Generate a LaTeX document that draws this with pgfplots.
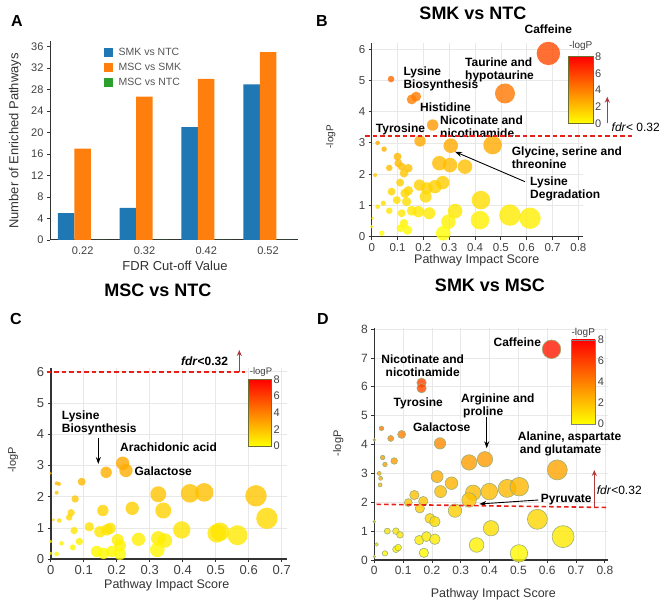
\documentclass[border=0pt]{standalone}
\usepackage{pgfplots}
\pgfplotsset{compat=1.18}
\usepackage{fontspec}
\setmainfont{Liberation Sans}
\usetikzlibrary{arrows.meta}

\definecolor{barblue}{HTML}{1F77B4}
\definecolor{barorange}{HTML}{FF7F0E}
\definecolor{bargreen}{HTML}{2CA02C}
\definecolor{axgray}{HTML}{333333}
\definecolor{ticktext}{HTML}{404040}
\definecolor{legtext}{HTML}{555555}
\definecolor{gridgray}{HTML}{E8E8E8}
\definecolor{fdrred}{HTML}{E8201A}
\definecolor{arrowred}{HTML}{B0393A}
\definecolor{cbborder}{HTML}{6E6E30}
\definecolor{dedge}{HTML}{9DB07A}

\newcommand\lab{\fontsize{12}{13}\selectfont\bfseries}
\newcommand\ttl{\fontsize{18}{20}\selectfont\bfseries}
\newcommand\pan{\fontsize{16}{18}\selectfont\bfseries}

\pgfplotsset{
  colormap={ylred}{rgb255(0cm)=(255,255,0); rgb255(1cm)=(255,140,0); rgb255(2cm)=(255,0,0)},
  panel/.style={
    scale only axis, anchor=south west,
    axis x line*=bottom, axis y line*=left,
    axis line style={axgray, line width=1.1pt, -},
    tick align=outside, major tick length=3pt,
    tick style={axgray, line width=0.8pt},
    /pgf/number format/assume math mode=true,
    tick label style={text=ticktext},
    grid=major, major grid style={gridgray, line width=0.6pt},
    point meta min=0, point meta max=8,
    colormap name=ylred,
    clip=true,
  },
  bubbles/.style={
    scatter, only marks, mark=*,
    point meta=explicit,
    visualization depends on={\thisrow{r} \as \rad},
    scatter/@pre marker code/.code={%
      \pgfplotscolormapdefinemappedcolor{\pgfplotspointmetatransformed}%
      \scope[mark size=\rad, fill=mapped color, fill opacity=0.8, line width=0.6pt, draw=#1]},
    scatter/@post marker code/.code={\endscope},
  },
  bubbles/.default={mapped color, draw opacity=0},
}

\pgfplotstableread{
c   smk  mscsmk  mscntc
0   5    17      0
1   6    26.7    0
2   21   30      0
3   29   35      0
}\bardata

\pgfplotstableread{
x     y     r
0.684 5.86 11.7
0.516 4.58 10.0
0.075 5.04 3.3
0.155 4.39 5.0
0.172 4.48 5.0
0.236 3.57 5.7
0.187 3.06 5.7
0.306 2.91 7.3
0.468 2.93 9.3
0.023 3.00 2.3
0.048 2.80 2.7
0.013 1.97 2.0
0.068 2.20 3.3
0.100 2.56 4.0
0.103 2.35 4.0
0.116 2.24 4.0
0.142 2.19 4.3
0.125 2.03 4.3
0.262 2.35 7.3
0.303 2.29 7.3
0.361 2.24 7.3
0.110 1.73 4.0
0.129 1.39 4.7
0.142 1.47 4.7
0.185 1.65 5.7
0.213 1.55 6.0
0.245 1.60 6.7
0.275 1.73 6.7
0.209 1.28 6.0
0.097 1.17 4.0
0.135 1.12 4.7
0.077 1.44 4.0
0.045 1.07 2.7
0.023 0.96 2.3
0.068 0.83 3.3
0.423 1.17 9.3
0.323 0.82 7.3
0.297 0.48 7.3
0.277 0.11 7.3
0.419 0.53 9.3
0.535 0.69 10.7
0.613 0.59 10.7
0.155 0.83 5.0
0.181 0.80 5.7
0.223 0.75 6.0
0.116 0.75 4.0
0.125 0.43 4.3
0.139 0.21 4.7
0.112 0.27 4.0
0.039 0.11 2.7
0.004 0.59 1.7
0.000 0.32 1.7
}\bdata

\pgfplotstableread{
x     y     r
0.218 3.07 6.7
0.228 2.84 6.7
0.168 2.78 5.7
0.094 2.48 4.0
0.018 2.43 2.0
0.025 2.41 2.0
0.018 2.13 2.0
0.000 2.75 1.3
0.074 1.93 3.7
0.062 1.49 3.7
0.056 1.34 3.3
0.008 1.26 1.7
0.026 1.24 2.3
0.158 1.56 5.7
0.247 1.63 6.7
0.326 2.08 8.0
0.341 1.56 8.0
0.422 2.11 9.3
0.465 2.14 9.3
0.622 2.03 10.7
0.655 1.31 10.7
0.117 1.04 4.7
0.071 0.92 3.7
0.087 0.57 3.7
0.067 0.38 3.0
0.033 0.51 2.3
0.018 0.17 2.3
0.000 0.19 1.7
0.000 0.57 1.7
0.149 0.88 5.7
0.170 0.94 5.7
0.180 0.99 5.7
0.203 0.62 6.0
0.210 0.44 6.0
0.139 0.25 5.7
0.160 0.19 5.7
0.185 0.25 5.7
0.210 0.17 6.0
0.266 0.64 6.7
0.326 0.67 7.3
0.346 0.60 7.3
0.323 0.30 7.3
0.397 0.94 8.7
0.503 0.83 9.3
0.513 0.88 9.3
0.566 0.77 10.0
}\cdata

\pgfplotstableread{
x     y     r
0.615 7.30 9.3
0.164 6.14 4.7
0.164 5.95 4.7
0.228 4.04 5.7
0.025 4.56 2.3
0.057 4.21 3.0
0.095 4.35 4.0
0.000 4.16 1.3
0.029 3.55 2.3
0.037 3.31 2.3
0.069 3.43 3.3
0.017 3.00 2.0
0.022 2.83 2.0
0.020 2.60 2.0
0.329 3.38 7.7
0.384 3.49 7.7
0.635 3.12 10.0
0.218 2.89 6.0
0.268 2.66 6.3
0.230 2.37 6.0
0.139 2.25 4.7
0.343 2.33 7.7
0.399 2.37 8.3
0.461 2.48 9.0
0.503 2.54 9.3
0.329 2.08 7.3
0.118 1.99 4.0
0.170 2.04 4.7
0.158 1.79 4.7
0.280 1.71 6.7
0.193 1.44 5.0
0.210 1.33 5.3
0.566 1.41 10.0
0.655 0.81 11.0
0.405 1.10 7.7
0.355 0.52 7.3
0.502 0.23 8.7
0.045 1.00 3.0
0.075 1.00 3.3
0.089 0.87 3.3
0.075 0.37 3.3
0.083 0.43 3.3
0.037 0.23 2.7
0.008 0.54 1.7
0.000 1.33 1.3
0.000 0.12 1.3
0.156 0.69 4.7
0.181 0.81 5.0
0.210 0.72 5.3
0.172 0.25 4.7
}\ddata

\begin{document}
\begin{tikzpicture}[x=1pt,y=1pt]
\path[use as bounding box] (0,0) rectangle (664,604);

% ---------------- Panel A ----------------
\begin{axis}[
  scale only axis, anchor=south west, at={(50pt,364pt)},
  width=248.3pt, height=198.7pt,
  xmin=-0.529, xmax=3.49, ymin=0, ymax=37,
  axis x line*=bottom, axis y line*=left,
  axis line style={axgray, line width=1pt, -},
  ybar, bar width=16.5pt,
  xtick=data, xticklabels={0.22,0.32,0.42,0.52},
  ytick={0,4,8,12,16,20,24,28,32,36},
  tick align=outside, major tick length=3pt,
  xtick style={draw=none}, ytick style={axgray, line width=0.8pt},
  /pgf/number format/assume math mode=true,
  tick label style={text=ticktext, font=\fontsize{11}{12}\selectfont},
  legend style={draw=none, fill=none, at={(0.205,0.985)}, anchor=north west,
    font=\fontsize{10.5}{12}\selectfont, text=legtext, row sep=2pt,
    /tikz/every odd column/.append style={column sep=4pt}},
  legend cell align=left,
  legend image code/.code={\fill[#1] (0pt,-4.5pt) rectangle (8.5pt,4.5pt);},
]
\addplot[fill=barblue, draw=none, bar shift=-16.5pt] table[x=c,y=smk] {\bardata};
\addplot[fill=barorange, draw=none, bar shift=0pt] table[x=c,y=mscsmk] {\bardata};
\addplot[fill=bargreen, draw=none, bar shift=16.5pt] table[x=c,y=mscntc] {\bardata};
\legend{SMK vs NTC, MSC vs SMK, MSC vs NTC}
\end{axis}
\node[font=\pan] at (17,583) {A};
\node[rotate=90, font=\fontsize{13}{14}\selectfont, text=axgray] at (15,463) {Number of Enriched Pathways};
\node[font=\fontsize{13}{14}\selectfont, text=axgray] at (175,338) {FDR Cut-off Value};

% ---------------- Panel B ----------------
\begin{axis}[panel, at={(371.7pt,367.3pt)}, width=211.3pt, height=193.9pt,
  xmin=0, xmax=0.818, ymin=0, ymax=6.2,
  xtick={0,0.1,0.2,0.3,0.4,0.5,0.6,0.7,0.8}, ytick={0,1,2,3,4,5,6},
  tick label style={font=\fontsize{11.5}{12}\selectfont},
]
\addplot[bubbles] table[x=x,y=y,meta=y] {\bdata};
\end{axis}
\node[font=\pan] at (322,583) {B};
\node[font=\ttl] at (473,591) {SMK vs NTC};
\node[font=\fontsize{12.5}{14}\selectfont, text=axgray] at (476.7,344) {Pathway Impact Score};
\node[rotate=90, font=\fontsize{10}{11}\selectfont, text=axgray] at (330.7,467.3) {-logP};
\node[font=\lab] at (548.3,574.7) {Caffeine};
\node[font=\lab, anchor=west, align=left, inner sep=0pt] at (465,534.5) {Taurine and\\hypotaurine};
\node[font=\lab, anchor=west, align=left, inner sep=0pt] at (403.3,525) {Lysine\\Biosynthesis};
\node[font=\lab, anchor=west, inner sep=0pt] at (420,496.3) {Histidine};
\node[font=\lab, anchor=west, align=left, inner sep=0pt] at (440,477) {Nicotinate and\\nicotinamide};
\node[font=\lab, anchor=west, inner sep=0pt] at (375.7,475) {Tyrosine};
\node[font=\lab, anchor=west, align=left, inner sep=0pt] at (511.7,446.5) {Glycine, serine and\\threonine};
\node[font=\lab, anchor=west, align=left, inner sep=0pt] at (530,415.5) {Lysine\\Degradation};
\draw[-{Stealth[length=7pt,width=5pt]}, line width=0.9pt] (525,422.3) -- (455,452.3);
\draw[fdrred, line width=1.6pt, dash pattern=on 4.5pt off 3pt] (365,468) -- (635,468);
\draw[arrowred, line width=1.2pt, -{Stealth[length=6pt,width=5pt]}] (607.3,480.7) -- (607.3,507.3);
\node[anchor=west, font=\fontsize{12}{13}\selectfont, inner sep=0pt] at (611.5,476.7) {\textit{fdr}< 0.32};
\shade[bottom color=yellow, middle color=orange, top color=red] (568.3,480.7) rectangle (593.3,547.3);
\draw[cbborder, line width=0.9pt] (568.3,480.7) rectangle (593.3,547.3);
\foreach \v/\yy in {0/480.7,2/497.35,4/514,6/530.65,8/547.3}
  \node[anchor=west, inner sep=0pt, font=\fontsize{11}{12}\selectfont, text=ticktext] at (595,\yy) {\v};
\node[font=\fontsize{10}{11}\selectfont, text=ticktext] at (580.7,558) {-logP};

% ---------------- Panel C ----------------
\begin{axis}[panel, at={(50.7pt,44.7pt)}, width=236pt, height=191.4pt,
  xmin=0, xmax=0.715, ymin=0, ymax=6.12,
  axis line style={axgray, line width=1.6pt, -},
  xtick={0,0.1,0.2,0.3,0.4,0.5,0.6,0.7}, ytick={0,1,2,3,4,5,6},
  tick label style={font=\fontsize{13}{14}\selectfont},
]
\addplot[bubbles] table[x=x,y=y,meta=y] {\cdata};
\end{axis}
\node[font=\pan] at (16,285) {C};
\node[font=\ttl] at (158,314) {MSC vs NTC};
\node[font=\fontsize{12.5}{14}\selectfont, text=axgray] at (166.7,19) {Pathway Impact Score};
\node[rotate=90, font=\fontsize{11}{12}\selectfont, text=axgray] at (13,144) {-logP};
\node[font=\lab, anchor=west, align=left, inner sep=0pt] at (61.7,180.7) {Lysine\\Biosynthesis};
\draw[-{Stealth[length=7pt,width=5pt]}, line width=0.9pt] (98.3,165.7) -- (98.3,140);
\node[font=\lab, anchor=west, inner sep=0pt] at (120,156.3) {Arachidonic acid};
\node[font=\lab, anchor=west, inner sep=0pt] at (134.3,132.3) {Galactose};
\draw[fdrred, line width=1.6pt, dash pattern=on 4.5pt off 3pt] (46.7,231.7) -- (245,231.7);
\draw[arrowred, line width=1.2pt, -{Stealth[length=6pt,width=5pt]}] (239.3,231.7) -- (239.3,254);
\node[font=\fontsize{12}{13}\selectfont\bfseries] at (204.5,242.3) {\textit{fdr}<0.32};
\shade[bottom color=yellow, middle color=orange, top color=red] (248.3,158) rectangle (271.7,224.7);
\draw[cbborder, line width=0.9pt] (248.3,158) rectangle (271.7,224.7);
\foreach \v/\yy in {0/158,2/174.7,4/191.35,6/208,8/224.7}
  \node[anchor=west, inner sep=0pt, font=\fontsize{11}{12}\selectfont, text=ticktext] at (273.5,\yy) {\v};
\node[font=\fontsize{9.5}{10}\selectfont, text=ticktext] at (261,232) {-logP};

% ---------------- Panel D ----------------
\begin{axis}[panel, at={(374.3pt,44pt)}, width=234pt, height=231.8pt,
  xmin=0, xmax=0.812, ymin=0, ymax=8.03,
  xtick={0,0.1,0.2,0.3,0.4,0.5,0.6,0.7,0.8}, ytick={0,1,2,3,4,5,6,7,8},
  tick label style={font=\fontsize{12}{13}\selectfont},
]
\addplot[bubbles=dedge] table[x=x,y=y,meta=y] {\ddata};
\end{axis}
\node[font=\pan] at (323,285) {D};
\node[font=\ttl] at (490,319) {SMK vs MSC};
\node[font=\fontsize{12.5}{14}\selectfont, text=axgray] at (493.3,10) {Pathway Impact Score};
\node[rotate=90, font=\fontsize{11}{12}\selectfont, text=axgray] at (338.3,160.7) {-logP};
\node[font=\lab] at (517.3,261.7) {Caffeine};
\node[font=\lab, align=center, inner sep=0pt] at (422.7,238.7) {Nicotinate and\\nicotinamide};
\node[font=\lab] at (418.3,200.7) {Tyrosine};
\node[font=\lab, anchor=west, align=left, inner sep=0pt] at (461,198.3) {Arginine and\\\,proline};
\draw[-{Stealth[length=7pt,width=5pt]}, line width=0.9pt] (486.7,186.7) -- (486.7,155.7);
\node[font=\lab] at (441.7,176.7) {Galactose};
\node[font=\lab, anchor=west, align=left, inner sep=0pt] at (517.7,160.3) {Alanine, aspartate\\\,and glutamate};
\node[font=\lab, anchor=west, inner sep=0pt] at (540.7,104.7) {Pyruvate};
\draw[-{Stealth[length=7pt,width=5pt]}, line width=0.9pt] (538.3,104) -- (479.3,100);
\draw[fdrred, line width=1.6pt, dash pattern=on 4.5pt off 3pt] (376.7,99.7) -- (608.3,96.5);
\draw[arrowred, line width=1.2pt, -{Stealth[length=6pt,width=5pt]}] (594.3,97) -- (594.3,134);
\node[anchor=west, font=\fontsize{12}{13}\selectfont, inner sep=0pt] at (596.7,114) {\textit{fdr}<0.32};
\shade[bottom color=yellow, middle color=orange, top color=red] (571.7,180) rectangle (595,264);
\draw[gray, line width=0.8pt] (571.7,180) rectangle (595,264);
\foreach \v/\yy in {0/180,2/201,4/222,6/243,8/264}
  \node[anchor=west, inner sep=0pt, font=\fontsize{11}{12}\selectfont, text=ticktext] at (597.7,\yy) {\v};
\node[font=\fontsize{10}{11}\selectfont, text=ticktext] at (583.3,271.5) {-logP};
\end{tikzpicture}
\end{document}
